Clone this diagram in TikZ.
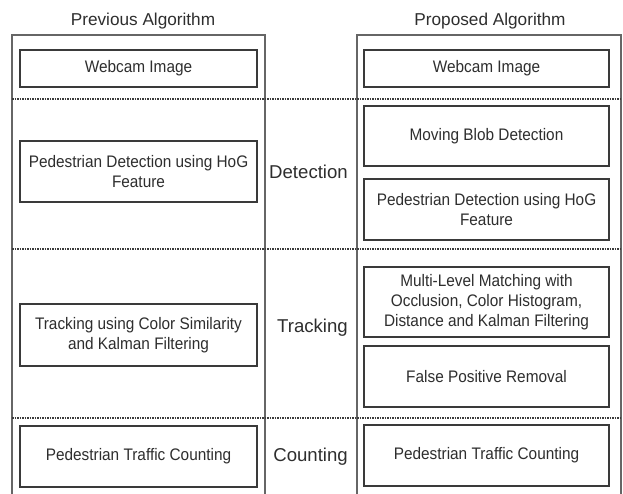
\documentclass[tikz,border=0pt]{standalone}
\usepackage{fontspec}
\setmainfont{Liberation Sans}
\newfontfamily\boxfont[FakeStretch=0.92]{Liberation Sans}
\definecolor{txt}{HTML}{2E2E2E}
\definecolor{boxline}{HTML}{3A3A3A}
\definecolor{frameline}{HTML}{666666}
\begin{document}
\begin{tikzpicture}[x=1pt,y=-1pt,
  stage/.style={draw=boxline,line width=1.3pt,rectangle,align=center,text=txt,
    font=\boxfont\fontsize{16.7}{20}\selectfont,inner sep=0pt},
  lbox/.style={stage,minimum width=237pt},
  rbox/.style={stage,minimum width=245pt},
  phase/.style={text=txt,font=\fontsize{18.6}{22}\selectfont,anchor=east,inner sep=0pt},
  head/.style={text=txt,font=\fontsize{17.2}{20}\selectfont,inner sep=0pt},
  frame/.style={draw=frameline,line width=1.3pt},
  sep/.style={draw=boxline,line width=1.1pt,dash pattern=on 1.6pt off 0.9pt}]
\useasboundingbox[fill=white] (0,0) rectangle (623,494);

% headers
\node[head] (hprev) at (143,21) {Previous Algorithm};
\node[head] (hprop) at (490,21) {Proposed Algorithm};

% frames
\coordinate (lfbl) at (12,494);
\coordinate (lftl) at (12,35);
\coordinate (lftr) at (265,35);
\coordinate (lfbr) at (265,494);
\coordinate (rfbl) at (357,494);
\coordinate (rftl) at (357,35);
\coordinate (rftr) at (621,35);
\coordinate (rfbr) at (621,494);
\draw[frame] (lfbl) -- (lftl) -- (lftr) -- (lfbr);
\draw[frame] (rfbl) -- (rftl) -- (rftr) -- (rfbr);

% separators
\coordinate (s1a) at (12,99);  \coordinate (s1b) at (621,99);
\coordinate (s2a) at (12,249); \coordinate (s2b) at (621,249);
\coordinate (s3a) at (12,418); \coordinate (s3b) at (621,418);
\draw[sep] (s1a) -- (s1b);
\draw[sep] (s2a) -- (s2b);
\draw[sep] (s3a) -- (s3b);

% left column
\node[lbox,minimum height=37pt] (lweb) at (138.5,68.5) {Webcam Image};
\node[lbox,minimum height=61pt] (lped) at (138.5,171.5) {Pedestrian Detection using HoG\\Feature};
\node[lbox,minimum height=62pt] (ltrk) at (138.5,335) {Tracking using Color Similarity\\and Kalman Filtering};
\node[lbox,minimum height=61pt] (lcnt) at (138.5,456.5) {Pedestrian Traffic Counting};

% right column
\node[rbox,minimum height=37pt] (rweb) at (486.5,68.5) {Webcam Image};
\node[rbox,minimum height=60pt] (rblob) at (486.5,136) {Moving Blob Detection};
\node[rbox,minimum height=61pt] (rped) at (486.5,209.5) {Pedestrian Detection using HoG\\Feature};
\node[rbox,minimum height=70pt] (rmulti) at (486.5,302) {Multi-Level Matching with\\Occlusion, Color Histogram,\\Distance and Kalman Filtering};
\node[rbox,minimum height=61pt] (rfalse) at (486.5,376.5) {False Positive Removal};
\node[rbox,minimum height=61pt] (rcnt) at (486.5,455.5) {Pedestrian Traffic Counting};

% phase labels
\node[phase] (pdet) at (348,172) {Detection};
\node[phase] (ptrk) at (348,328) {Tracking};
\node[phase] (pcnt) at (348,457) {Counting};
\end{tikzpicture}
\end{document}
